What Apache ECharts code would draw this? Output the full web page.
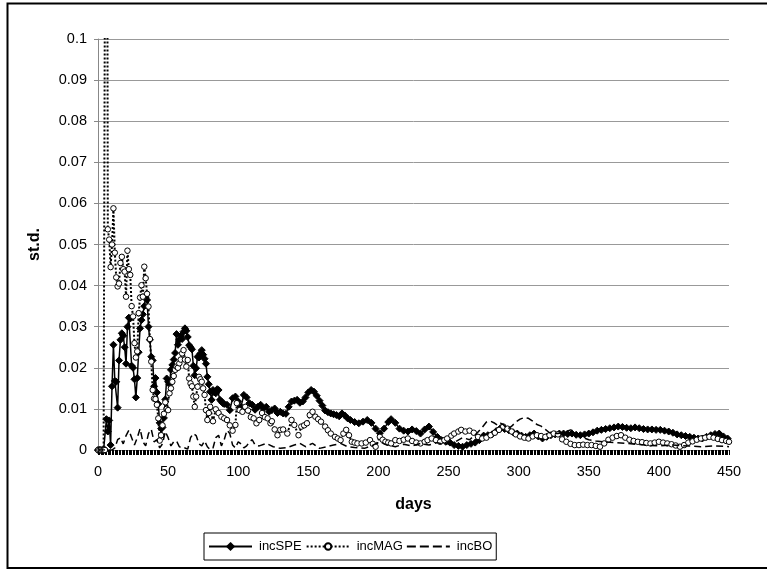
<!DOCTYPE html>
<html>
<head>
<meta charset="utf-8">
<script src="https://cdn.jsdelivr.net/npm/echarts@6/dist/echarts.min.js"></script>
<style>
html,body{margin:0;padding:0;background:#fff;}
#c{width:767px;height:570px;}
</style>
</head>
<body>
<div id="c"></div>
<script>
// ---- data ----
var seriesNames = ['incSPE', 'incMAG', 'incBO'];
var xTickLabels = [0, 50, 100, 150, 200, 250, 300, 350, 400, 450];

var speDays = [0,1,2,3,4,5,6,7,8,9,10,11,12,13,14,15,16,17,18,19,20,21,22,23,24,25,26,27,28,29,30,31,32,33,34,35,36,37,38,39,40,41,42,43,44,45,46,47,48,49,50,51,52,53,54,55,56,57,58,59,60,61,62,63,64,65,66,67,68,69,70,71,72,73,74,75,76,77,78,79,80,81,82,83,84,85,86,87,88,89,90,92,94,96,98,100,102,104,106,108,110,112,114,116,118,120,122,124,126,128,130,132,134,136,138,140,142,144,146,148,150,152,154,156,158,160,162,164,166,168,170,172,174,176,178,180,183,186,189,192,195,198,201,204,207,209,212,215,218,221,224,227,230,233,236,239,242,245,248,251,254,257,260,263,266,269,272,275,278,281,284,287,290,293,296,299,302,305,308,311,314,317,320,323,326,329,332,335,338,341,344,347,350,353,356,359,362,365,368,371,374,377,380,383,386,389,392,395,398,401,404,407,410,413,416,419,422,425,428,431,434,437,440,443,446,449];
var speVals = [0,0,0,0,0,0,0.0075,0.0045,0.0072,0.0012,0.0155,0.0256,0.0168,0.0166,0.0103,0.0218,0.0268,0.0284,0.0278,0.0250,0.0210,0.0300,0.0322,0.0320,0.0205,0.0200,0.0172,0.0128,0.0175,0.0238,0.0296,0.0316,0.0330,0.0350,0.0372,0.0365,0.0300,0.0268,0.0227,0.0218,0.0155,0.0175,0.0140,0.0112,0.0066,0.0052,0.0055,0.0078,0.0123,0.0174,0.0166,0.0160,0.0195,0.0207,0.0220,0.0236,0.0282,0.0256,0.0268,0.0278,0.0270,0.0288,0.0296,0.0290,0.0275,0.0255,0.0250,0.0245,0.0205,0.0182,0.0199,0.0227,0.0225,0.0235,0.0243,0.0232,0.0222,0.0210,0.0178,0.0160,0.0142,0.0122,0.0146,0.0140,0.0138,0.0148,0.0146,0.0122,0.0118,0.0114,0.0112,0.0110,0.0097,0.0126,0.0130,0.0118,0.0105,0.0134,0.0128,0.0114,0.0110,0.0098,0.0105,0.0110,0.0101,0.0105,0.0093,0.0097,0.0101,0.0090,0.0093,0.0089,0.0088,0.0105,0.0118,0.0120,0.0122,0.0115,0.0118,0.0128,0.0140,0.0146,0.0142,0.0132,0.0120,0.0108,0.0096,0.0092,0.0089,0.0087,0.0085,0.0082,0.0089,0.0084,0.0077,0.0073,0.0068,0.0065,0.0069,0.0073,0.0066,0.0052,0.0041,0.0052,0.0068,0.0075,0.0066,0.0052,0.0047,0.0045,0.0050,0.0046,0.0040,0.0050,0.0057,0.0044,0.0032,0.0024,0.0020,0.0018,0.0012,0.0010,0.0008,0.0012,0.0015,0.0018,0.0024,0.0035,0.0036,0.0038,0.0046,0.0053,0.0051,0.0048,0.0043,0.0040,0.0035,0.0032,0.0036,0.0040,0.0033,0.0028,0.0032,0.0036,0.0038,0.0040,0.0040,0.0039,0.0040,0.0037,0.0036,0.0038,0.0040,0.0043,0.0047,0.0049,0.0051,0.0053,0.0055,0.0057,0.0056,0.0054,0.0053,0.0055,0.0053,0.0051,0.0050,0.0050,0.0049,0.0049,0.0047,0.0045,0.0042,0.0038,0.0036,0.0034,0.0032,0.0030,0.0028,0.0028,0.0032,0.0036,0.0039,0.0040,0.0033,0.0028];

var magDays = [0,1,2,3,4,5,6,7,8,9,10,11,12,13,14,15,16,17,18,19,20,21,22,23,24,25,26,27,28,29,30,31,32,33,34,35,36,37,38,39,40,41,42,43,44,45,46,47,48,49,50,51,52,53,54,55,56,57,58,59,60,61,62,63,64,65,66,67,68,69,70,71,72,73,74,75,76,77,78,79,80,82,84,86,88,90,92,94,96,98,99,101,103,105,107,109,111,113,115,117,119,121,123,124,126,128,130,132,135,138,140,143,145,147,149,151,153,155,157,159,162,164,166,169,171,173,175,177,179,181,183,185,188,191,194,196,198,201,203,205,207,209,212,215,218,221,224,227,230,233,235,238,241,244,247,249,252,254,257,259,262,265,268,271,274,277,280,283,286,289,292,295,298,301,304,307,310,313,316,319,322,325,328,331,334,337,340,343,346,349,352,355,358,361,364,367,370,373,376,379,382,385,388,391,394,397,400,403,406,409,412,415,418,421,424,427,430,433,436,439,442,445,448,450];
var magVals = [0,0,0,0,0,0,0.25,0.0537,0.0512,0.0445,0.0500,0.0588,0.0480,0.0420,0.0398,0.0405,0.0455,0.0470,0.0440,0.0434,0.0373,0.0485,0.0440,0.0426,0.0350,0.0325,0.0260,0.0225,0.0240,0.0333,0.0371,0.0401,0.0373,0.0446,0.0418,0.0380,0.0349,0.0270,0.0215,0.0146,0.0125,0.0124,0.0110,0.0077,0.0023,0.0036,0.0060,0.0088,0.0116,0.0100,0.0097,0.0138,0.0150,0.0166,0.0180,0.0195,0.0203,0.0200,0.0211,0.0220,0.0235,0.0243,0.0220,0.0203,0.0219,0.0174,0.0162,0.0155,0.0130,0.0105,0.0130,0.0154,0.0178,0.0172,0.0166,0.0150,0.0134,0.0097,0.0073,0.0090,0.0105,0.0070,0.0099,0.0090,0.0081,0.0077,0.0073,0.0060,0.0047,0.0061,0.0114,0.0097,0.0093,0.0105,0.0096,0.0080,0.0077,0.0065,0.0073,0.0090,0.0080,0.0077,0.0065,0.0070,0.0050,0.0036,0.0049,0.0050,0.0040,0.0073,0.0061,0.0036,0.0057,0.0060,0.0065,0.0085,0.0093,0.0081,0.0075,0.0069,0.0057,0.0048,0.0040,0.0032,0.0028,0.0024,0.0040,0.0049,0.0036,0.0020,0.0018,0.0016,0.0016,0.0018,0.0024,0.0015,0.0008,0.0032,0.0025,0.0020,0.0018,0.0016,0.0024,0.0022,0.0025,0.0028,0.0022,0.0018,0.0016,0.0020,0.0024,0.0028,0.0024,0.0020,0.0024,0.0028,0.0035,0.0040,0.0045,0.0049,0.0045,0.0047,0.0042,0.0032,0.0028,0.0030,0.0036,0.0042,0.0049,0.0057,0.0052,0.0045,0.0038,0.0033,0.0030,0.0028,0.0033,0.0036,0.0034,0.0032,0.0036,0.0040,0.0038,0.0026,0.0020,0.0015,0.0012,0.0012,0.0013,0.0012,0.0012,0.0010,0.0008,0.0016,0.0025,0.0030,0.0034,0.0036,0.0030,0.0025,0.0022,0.0020,0.0019,0.0017,0.0016,0.0018,0.0020,0.0018,0.0016,0.0014,0.0011,0.0008,0.0012,0.0018,0.0021,0.0025,0.0028,0.0030,0.0032,0.0030,0.0027,0.0024,0.0022,0.0020];

var boDays = [0,10,12,14,16,18,20,22,24,26,28,30,32,34,36,38,40,42,44,46,48,50,52,54,56,58,60,62,64,66,68,70,72,74,76,78,80,82,84,86,88,90,92,94,96,98,100,102,104,106,108,110,112,115,120,125,130,135,140,144,148,153,158,163,168,173,178,183,190,195,201,206,212,218,224,230,236,242,246,250,255,260,265,270,274,277,280,283,285,287,289,292,295,298,301,304,307,310,313,316,319,322,325,328,331,334,337,340,343,346,350,355,360,370,380,390,400,410,420,430,440,450];
var boVals = [0,0,0.0005,0.0025,0.0030,0.0015,0.0035,0.0048,0.0030,0.0012,0.0030,0.0052,0.0020,0.0010,0.0040,0.0050,0.0020,0.0025,0.0005,0.0015,0.0045,0.0030,0.0010,0.0020,0.0022,0.0008,0.0004,0.0005,0.0002,0.0030,0.0040,0.0035,0.0015,0.0010,0.0022,0.0008,0.0001,0.0005,0.0030,0.0036,0.0010,0.0025,0.0048,0.0040,0.0012,0.0005,0.0020,0.0015,0.0005,0.0010,0.0020,0.0025,0.0012,0.0010,0.0016,0.0008,0.0004,0.0006,0.0012,0.0016,0.0008,0.0016,0.0004,0.0008,0.0012,0.0016,0.0008,0.0006,0.0004,0.0010,0.0020,0.0012,0.0008,0.0014,0.0010,0.0016,0.0012,0.0018,0.0014,0.0015,0.0020,0.0030,0.0025,0.0040,0.0055,0.0068,0.0070,0.0065,0.0060,0.0065,0.0062,0.0050,0.0058,0.0068,0.0075,0.0079,0.0077,0.0070,0.0062,0.0058,0.0050,0.0042,0.0040,0.0040,0.0042,0.0045,0.0049,0.0045,0.0035,0.0030,0.0025,0.0022,0.0020,0.0018,0.0015,0.0012,0.0010,0.0012,0.0010,0.0008,0.0010,0.0008];

function zip(xs, ys) { return xs.map(function (x, i) { return [x, ys[i]]; }); }

var FONT = '"Liberation Sans", Arial, sans-serif';
var chart = echarts.init(document.getElementById('c'), null, { renderer: 'canvas' });

chart.setOption({
  animation: false,
  backgroundColor: '#fff',
  textStyle: { fontFamily: FONT, color: '#000' },
  graphic: [{
    type: 'rect', silent: true, z: -10,
    shape: { x: 7.5, y: 3.5, width: 770, height: 564.5 },
    style: { fill: null, stroke: '#000', lineWidth: 2 }
  }],
  grid: { left: 98, right: 38, top: 39, bottom: 120, containLabel: false },
  legend: {
    data: [
      { name: seriesNames[0] },
      { name: seriesNames[1] },
      { name: seriesNames[2], icon: 'path://M0,0h9v2h-9z M13,0h9v2h-9z M26,0h9v2h-9z M39,0h4v2h-4z' }
    ],
    left: 204, top: 533,
    orient: 'horizontal',
    itemWidth: 43, itemHeight: 8, itemGap: 4,
    padding: [7, 4, 7, 4],
    borderColor: '#000', borderWidth: 1,
    textStyle: { fontFamily: FONT, fontSize: 13, color: '#000', padding: [0, 0, 0, 2] }
  },
  xAxis: {
    type: 'value', min: 0, max: 450, interval: 50,
    name: 'days', nameLocation: 'middle', nameGap: 47,
    nameTextStyle: { fontFamily: FONT, fontSize: 16, fontWeight: 'bold', color: '#000' },
    axisLine: { show: true, lineStyle: { color: '#888', width: 1 } },
    axisTick: { show: true, length: 5, inside: false, lineStyle: { color: '#000', width: 1 } },
    minorTick: { show: true, splitNumber: 50, length: 5, lineStyle: { color: '#000', width: 1 } },
    splitLine: { show: false },
    axisLabel: {
      margin: 14, fontFamily: FONT, fontSize: 14.5, color: '#000',
      formatter: function (v) { return xTickLabels.indexOf(v) >= 0 ? String(v) : ''; }
    }
  },
  yAxis: {
    type: 'value', min: 0, max: 0.1, interval: 0.01,
    name: 'st.d.', nameLocation: 'middle', nameGap: 55, nameRotate: 90,
    nameTextStyle: { fontFamily: FONT, fontSize: 16, fontWeight: 'bold', color: '#000' },
    axisLine: { show: true, lineStyle: { color: '#888', width: 1 } },
    axisTick: { show: true, length: 4, lineStyle: { color: '#888' } },
    splitLine: { show: true, lineStyle: { color: '#999', width: 1 } },
    axisLabel: {
      margin: 11, fontFamily: FONT, fontSize: 14.5, color: '#000',
      formatter: function (v) { return String(+v.toFixed(2)); }
    }
  },
  series: [
    {
      name: 'incSPE', type: 'line', data: zip(speDays, speVals),
      symbol: 'diamond', symbolSize: 7, showAllSymbol: true, clip: true,
      lineStyle: { color: '#000', width: 1.5, type: 'solid' },
      itemStyle: { color: '#000', borderColor: '#000', borderWidth: 1 },
      z: 3
    },
    {
      name: 'incMAG', type: 'line', data: zip(magDays, magVals),
      symbol: 'circle', symbolSize: 5.5, showAllSymbol: true, clip: true,
      lineStyle: { color: '#000', width: 2, type: [2, 2] },
      itemStyle: { color: '#fff', borderColor: '#000', borderWidth: 1 },
      z: 4
    },
    {
      name: 'incBO', type: 'line', data: zip(boDays, boVals),
      symbol: 'none', showSymbol: false, clip: true,
      lineStyle: { color: '#000', width: 1.5, type: [7, 4] },
      itemStyle: { color: '#000' },
      z: 5
    }
  ]
});
</script>
</body>
</html>
